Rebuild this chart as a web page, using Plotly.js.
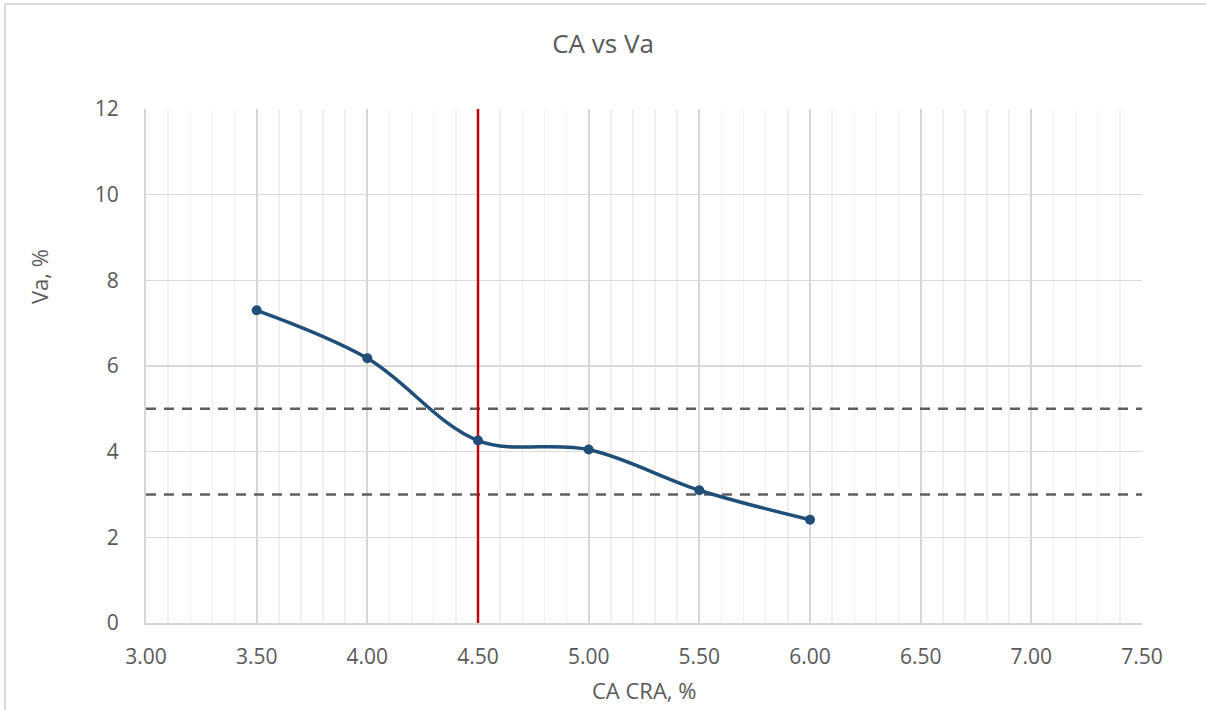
<!DOCTYPE html>
<html>
<head>
<meta charset="utf-8">
<script src="https://cdn.plot.ly/plotly-3.0.1.min.js"></script>
<style>
  html, body { margin: 0; padding: 0; background: #ffffff; }
  #chart { width: 1206px; height: 710px; }
</style>
</head>
<body>
<div id="chart"></div>
<script>
// CA content (%) against air voids Va (%)
const caContent = [3.5, 4.0, 4.5, 5.0, 5.5, 6.0];
const airVoids = [7.3, 6.18, 4.26, 4.05, 3.1, 2.41];

// Specification band for Va and the selected CA content
const vaLimits = [5, 3];
const limitSpan = [3.0, 7.5];
const selectedCA = 4.5;
const vaRange = [0, 12];

const textColor = '#595959';
const fontFamily = '"Open Sans", "Noto Sans", sans-serif';

const traces = [];

vaLimits.forEach(v => {
  traces.push({
    x: limitSpan,
    y: [v, v],
    mode: 'lines',
    line: { color: '#5f5f5f', width: 2.5, dash: '10px,8px' },
    hoverinfo: 'skip',
    showlegend: false
  });
});

traces.push({
  x: [selectedCA, selectedCA],
  y: vaRange,
  mode: 'lines',
  line: { color: '#c00000', width: 2.5 },
  hoverinfo: 'skip',
  showlegend: false
});

traces.push({
  x: caContent,
  y: airVoids,
  mode: 'lines+markers',
  line: { color: '#1f4e79', width: 3.5, shape: 'spline', smoothing: 1 },
  marker: { color: '#1f4e79', size: 10 },
  showlegend: false
});

const layout = {
  width: 1206,
  height: 710,
  margin: { l: 146, r: 64, t: 109, b: 87 },
  paper_bgcolor: '#ffffff',
  plot_bgcolor: '#ffffff',
  font: { family: fontFamily, color: textColor, size: 20 },
  title: {
    text: 'CA vs Va',
    font: { family: fontFamily, size: 26, color: textColor },
    x: 0.5, xref: 'container', xanchor: 'center',
    y: 1 - 44 / 710, yref: 'container', yanchor: 'middle'
  },
  xaxis: {
    range: limitSpan,
    tick0: 3.0,
    dtick: 0.5,
    tickformat: '.2f',
    showgrid: true,
    gridcolor: '#d6d6d6',
    gridwidth: 2,
    minor: { dtick: 0.1, showgrid: true, gridcolor: '#f0f0f0', gridwidth: 1.5 },
    showline: true,
    linecolor: '#d6d6d6',
    linewidth: 2,
    zeroline: false,
    ticks: '',
    ticklabelstandoff: 14,
    tickfont: { family: fontFamily, size: 21, color: textColor },
    fixedrange: true
  },
  yaxis: {
    range: vaRange,
    tick0: 0,
    dtick: 2,
    showgrid: true,
    gridcolor: '#d9d9d9',
    gridwidth: 1.5,
    showline: true,
    linecolor: '#d6d6d6',
    linewidth: 2,
    zeroline: false,
    ticks: '',
    ticklabelstandoff: 21,
    tickfont: { family: fontFamily, size: 21, color: textColor },
    fixedrange: true
  },
  annotations: [
    {
      text: 'Va, %',
      xref: 'paper', yref: 'paper',
      x: (39 - 146) / 996, y: (623 - 277) / 514,
      xanchor: 'center', yanchor: 'middle',
      textangle: -90,
      showarrow: false,
      font: { family: fontFamily, size: 22, color: textColor }
    },
    {
      text: 'CA CRA, %',
      xref: 'paper', yref: 'paper',
      x: 0.5, y: (623 - 690) / 514,
      xanchor: 'center', yanchor: 'middle',
      showarrow: false,
      font: { family: fontFamily, size: 22, color: textColor }
    }
  ],
  shapes: [
    // chart-area frame (top and left edges)
    {
      type: 'line', xref: 'paper', yref: 'paper', layer: 'below',
      x0: (5 - 146) / 996, x1: (1206 - 146) / 996,
      y0: (623 - 4) / 514, y1: (623 - 4) / 514,
      line: { color: '#d9d9d9', width: 2 }
    },
    {
      type: 'line', xref: 'paper', yref: 'paper', layer: 'below',
      x0: (5 - 146) / 996, x1: (5 - 146) / 996,
      y0: (623 - 4) / 514, y1: (623 - 720) / 514,
      line: { color: '#d9d9d9', width: 2 }
    }
  ],
  showlegend: false
};

Plotly.newPlot('chart', traces, layout, { displayModeBar: false, staticPlot: true });
</script>
</body>
</html>
